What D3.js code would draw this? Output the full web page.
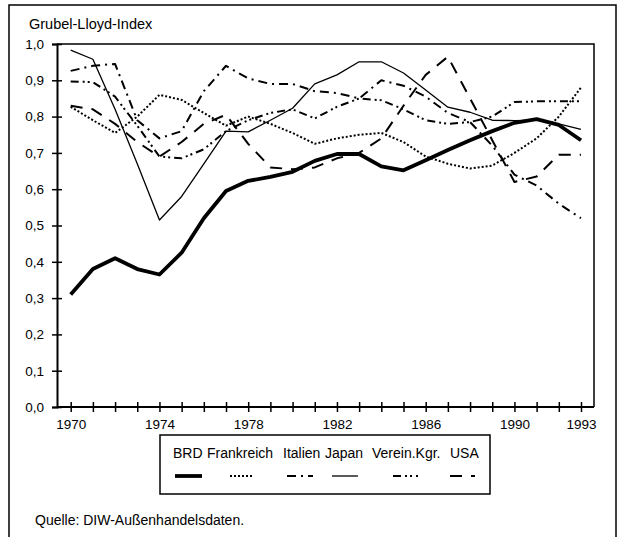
<!DOCTYPE html>
<html>
<head>
<meta charset="utf-8">
<script src="https://cdn.jsdelivr.net/npm/d3@7"></script>
<style>
  body { margin: 0; background: #fff; }
  svg { display: block; font-family: "Liberation Sans", Arial, sans-serif; }
</style>
</head>
<body>
<script>
// Werte
var years = d3.range(1970, 1994);
var yearLabels = [1970, 1974, 1978, 1982, 1986, 1990, 1993];
var yTicks = [0, 0.1, 0.2, 0.3, 0.4, 0.5, 0.6, 0.7, 0.8, 0.9, 1.0];

var brd = [0.31, 0.38, 0.41, 0.38, 0.365, 0.425, 0.52, 0.595, 0.623, 0.634, 0.648, 0.678,
           0.697, 0.697, 0.663, 0.652, 0.68, 0.708, 0.735, 0.76, 0.783, 0.793, 0.777, 0.735];
var frankreich = [0.827, 0.79, 0.755, 0.80, 0.86, 0.846, 0.81, 0.775, 0.80, 0.78, 0.755, 0.725,
                  0.74, 0.75, 0.755, 0.73, 0.69, 0.67, 0.657, 0.665, 0.70, 0.74, 0.80, 0.88];
var italien = [0.926, 0.94, 0.945, 0.79, 0.74, 0.76, 0.87, 0.94, 0.905, 0.89, 0.89, 0.87,
               0.865, 0.85, 0.90, 0.885, 0.855, 0.81, 0.785, 0.72, 0.64, 0.61, 0.56, 0.52];
var japan = [0.983, 0.958, 0.82, 0.67, 0.515, 0.58, 0.67, 0.76, 0.758, 0.79, 0.823, 0.89,
             0.915, 0.951, 0.951, 0.92, 0.873, 0.826, 0.812, 0.79, 0.789, 0.79, 0.78, 0.765];
var vereinKgr = [0.897, 0.895, 0.855, 0.775, 0.69, 0.685, 0.71, 0.76, 0.79, 0.81, 0.82, 0.795,
                 0.827, 0.85, 0.845, 0.82, 0.79, 0.78, 0.785, 0.80, 0.84, 0.842, 0.842, 0.842];
var usa = [0.83, 0.82, 0.78, 0.73, 0.69, 0.73, 0.78, 0.805, 0.725, 0.66, 0.655, 0.66,
           0.685, 0.70, 0.74, 0.83, 0.915, 0.965, 0.85, 0.735, 0.62, 0.635, 0.695, 0.695];

var seriesNames = ['BRD', 'Frankreich', 'Italien', 'Japan', 'Verein.Kgr.', 'USA'];
var seriesValues = [brd, frankreich, italien, japan, vereinKgr, usa];

// Linienstile je Land
var styles = [
  { width: 3.8, dash: null },
  { width: 2, dash: '2,2' },
  { width: 2, dash: '9,5,2,5' },
  { width: 1.3, dash: null },
  { width: 2, dash: '8,4,2,3,2,4' },
  { width: 2, dash: '12,9' }
];

var w = 625, h = 537;
var svg = d3.select('body').append('svg')
  .attr('width', w)
  .attr('height', h);

// äußerer Rahmen
svg.append('rect')
  .attr('x', 9).attr('y', 5)
  .attr('width', 607).attr('height', 545)
  .attr('fill', 'none')
  .attr('stroke', '#000')
  .attr('stroke-width', 1.5);

svg.append('text')
  .attr('x', 29).attr('y', 29)
  .attr('font-size', '14.5px')
  .text('Grubel-Lloyd-Index');

var x = d3.scaleLinear().domain([1970, 1993]).range([70.7, 581]);
var y = d3.scaleLinear().domain([0, 1]).range([407, 44]);
var left = 57, right = 594;

// Plotrahmen oben und rechts
svg.append('path')
  .attr('d', 'M' + left + ',' + y(1) + 'H' + right + 'V' + y(0))
  .attr('fill', 'none')
  .attr('stroke', '#000')
  .attr('stroke-width', 1.5);

// y-Achse
var yAxis = svg.append('g')
  .attr('transform', 'translate(' + left + ',0)')
  .call(d3.axisLeft(y)
    .tickValues(yTicks)
    .tickSize(5)
    .tickPadding(8)
    .tickFormat(function(d) { return d3.format('.1f')(d).replace('.', ','); }));
yAxis.select('.domain').attr('stroke-width', 2);
yAxis.selectAll('.tick line').attr('x1', 5).attr('stroke-width', 1.5);
yAxis.selectAll('text').attr('font-size', '13.5px').attr('fill', '#000')
  .attr('font-family', '"Liberation Sans", Arial, sans-serif');

// x-Achse
var xAxis = svg.append('g')
  .attr('transform', 'translate(0,' + y(0) + ')')
  .call(d3.axisBottom(x)
    .tickValues(years)
    .tickSize(5)
    .tickPadding(7)
    .tickFormat(function(d) { return yearLabels.indexOf(d) >= 0 ? d : ''; }));
xAxis.select('.domain')
  .attr('d', 'M' + left + ',0H' + right)
  .attr('stroke-width', 2);
xAxis.selectAll('.tick line').attr('y1', -5).attr('stroke-width', 1.5);
xAxis.selectAll('text').attr('font-size', '13.5px').attr('fill', '#000')
  .attr('font-family', '"Liberation Sans", Arial, sans-serif');

// Linien
var line = d3.line()
  .x(function(d, i) { return x(years[i]); })
  .y(function(d) { return y(d); });

svg.append('g').selectAll('path')
  .data(seriesValues)
  .enter()
  .append('path')
  .attr('d', line)
  .attr('fill', 'none')
  .attr('stroke', '#000')
  .attr('stroke-linejoin', 'round')
  .attr('stroke-width', function(d, i) { return styles[i].width; })
  .attr('stroke-dasharray', function(d, i) { return styles[i].dash; });

// Legende
var legend = svg.append('g');
legend.append('rect')
  .attr('x', 160).attr('y', 435)
  .attr('width', 330).attr('height', 59)
  .attr('fill', 'none')
  .attr('stroke', '#000')
  .attr('stroke-width', 1.5);

var labelX = [173, 207, 283, 325, 372, 450];
var sampleX = [[175, 202], [230, 253], [287, 313], [332, 358], [393, 418], [450, 475]];

legend.selectAll('text')
  .data(seriesNames)
  .enter()
  .append('text')
  .attr('x', function(d, i) { return labelX[i]; })
  .attr('y', 458)
  .attr('font-size', '14px')
  .text(function(d) { return d; });

legend.selectAll('line')
  .data(seriesNames)
  .enter()
  .append('line')
  .attr('x1', function(d, i) { return sampleX[i][0]; })
  .attr('x2', function(d, i) { return sampleX[i][1]; })
  .attr('y1', 476).attr('y2', 476)
  .attr('stroke', '#000')
  .attr('stroke-width', function(d, i) { return styles[i].width; })
  .attr('stroke-dasharray', function(d, i) { return styles[i].dash; });

svg.append('text')
  .attr('x', 35).attr('y', 525)
  .attr('font-size', '14px')
  .text('Quelle: DIW-Außenhandelsdaten.');
</script>
</body>
</html>
